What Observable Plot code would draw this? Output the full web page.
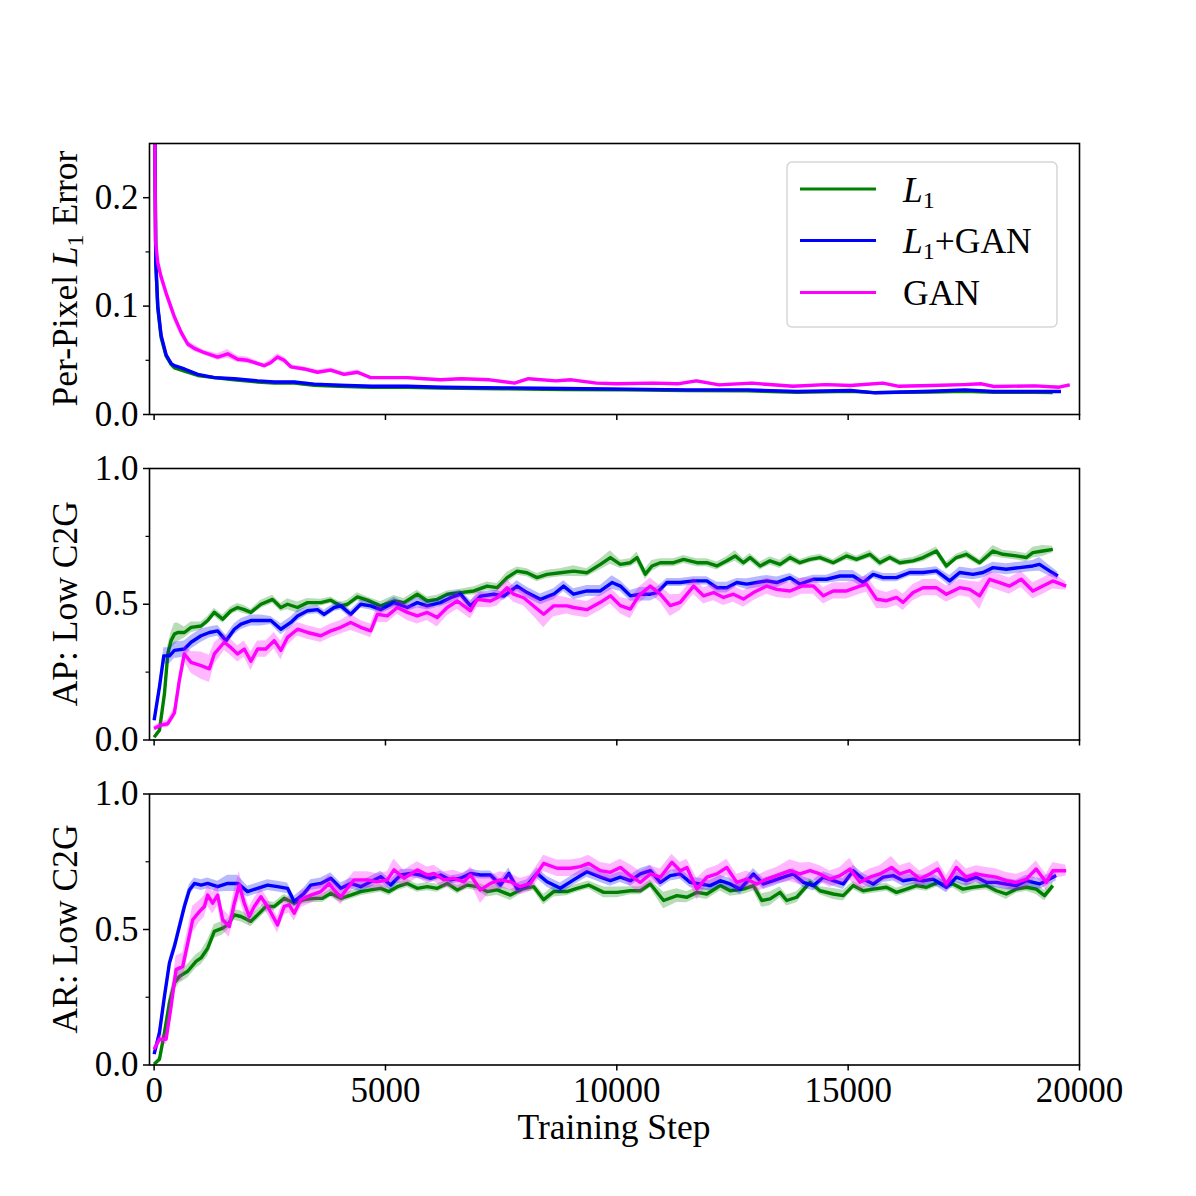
<!DOCTYPE html>
<html>
<head>
<meta charset="utf-8">
<script src="https://cdn.jsdelivr.net/npm/d3@7"></script>
<script src="https://cdn.jsdelivr.net/npm/@observablehq/plot@0.6"></script>
<style>
  html, body { margin: 0; padding: 0; background: #fff; overflow: hidden; }
  #chart { width: 1196px; height: 1196px; position: relative; }
  #chart svg { display: block; }
</style>
</head>
<body>
<div id="chart"></div>
<script>
// ---------- data: [training step, mean, spread] ----------
const seriesNames = ["L1", "L1+GAN", "GAN"];
const seriesColors = ["#008000", "#0000ff", "#ff00ff"];
const xTicks = [0, 5000, 10000, 15000, 20000];
const errTicks = [0, 0.1, 0.2];
const errMinor = [0.05, 0.15];
const scoreTicks = [0, 0.5, 1.0];
const scoreMinor = [0.25, 0.75];

const errL1 = [[0,0.35,0.002],[36,0.14,0.003],[79,0.098,0.002],[151,0.071,0.002],[259,0.054,0.001],[370,0.046,0.001],[439,0.043,0.001],[654,0.04,0.001],[942,0.036,0.001],[1301,0.034,0.001],[1733,0.032,0.001],[2236,0.03,0.001],[2600,0.029,0.001],[3027,0.029,0.001],[3458,0.027,0.001],[4000,0.026,0.001],[4700,0.025,0.001],[5471,0.025,0.001],[6193,0.0245,0.0008],[7520,0.0238,0.0008],[8850,0.023,0.0008],[10170,0.0228,0.0008],[11500,0.022,0.0008],[12830,0.0218,0.0008],[13890,0.0205,0.0008],[15050,0.0215,0.0008],[15580,0.0202,0.0008],[16810,0.0208,0.0008],[17520,0.0215,0.0008],[18150,0.0205,0.0008],[19030,0.0205,0.0008],[19420,0.0202,0.0008]];
const errL1GAN = [[0,0.35,0.002],[36,0.14,0.003],[79,0.1,0.002],[151,0.073,0.002],[259,0.055,0.001],[370,0.047,0.001],[439,0.045,0.001],[654,0.042,0.001],[942,0.037,0.001],[1301,0.034,0.001],[1733,0.033,0.001],[2236,0.031,0.001],[2600,0.03,0.001],[3027,0.03,0.001],[3458,0.028,0.001],[4000,0.027,0.001],[4700,0.026,0.001],[5471,0.026,0.001],[6193,0.0252,0.0008],[7520,0.0246,0.0008],[8850,0.024,0.0008],[10170,0.0234,0.0008],[11500,0.0227,0.0008],[12830,0.0227,0.0008],[13890,0.0212,0.0008],[15050,0.0221,0.0008],[15580,0.02,0.0008],[16810,0.0215,0.0008],[17520,0.0227,0.0008],[18150,0.0212,0.0008],[19030,0.0212,0.0008],[19600,0.0212,0.0008]];
const errGAN = [[0,0.35,0.005],[30,0.16,0.005],[79,0.14,0.005],[151,0.127,0.005],[259,0.112,0.005],[439,0.09,0.005],[582,0.076,0.004],[726,0.065,0.003],[870,0.061,0.003],[1086,0.057,0.002],[1373,0.053,0.003],[1589,0.056,0.004],[1805,0.051,0.003],[2020,0.05,0.003],[2236,0.047,0.002],[2380,0.045,0.002],[2524,0.048,0.003],[2667,0.053,0.003],[2811,0.05,0.003],[2955,0.044,0.002],[3243,0.042,0.002],[3530,0.039,0.002],[3818,0.041,0.002],[4105,0.037,0.002],[4393,0.039,0.002],[4681,0.034,0.001],[5040,0.034,0.001],[5471,0.034,0.001],[5831,0.033,0.001],[6193,0.032,0.001],[6636,0.033,0.001],[7250,0.032,0.001],[7790,0.0289,0.001],[8090,0.033,0.001],[8680,0.031,0.001],[9020,0.032,0.001],[9560,0.0289,0.001],[9990,0.0283,0.001],[10790,0.0289,0.001],[11320,0.0283,0.001],[11720,0.031,0.001],[12210,0.0273,0.001],[12920,0.0289,0.001],[13810,0.026,0.001],[14520,0.0276,0.001],[15050,0.0267,0.001],[15750,0.0289,0.001],[16100,0.026,0.001],[16810,0.0267,0.001],[17520,0.0276,0.001],[17880,0.0283,0.001],[18150,0.0258,0.001],[19030,0.0264,0.001],[19560,0.0252,0.001],[19790,0.0273,0.001]];

const apL1 = [[0,0.01,0.005],[115,0.036,0.01],[223,0.17,0.02],[295,0.317,0.03],[367,0.366,0.03],[439,0.39,0.04],[510,0.396,0.035],[654,0.396,0.02],[798,0.415,0.02],[1014,0.42,0.015],[1158,0.44,0.015],[1301,0.47,0.015],[1481,0.445,0.015],[1661,0.476,0.015],[1805,0.488,0.015],[1948,0.48,0.015],[2092,0.47,0.012],[2308,0.5,0.015],[2560,0.518,0.015],[2739,0.488,0.015],[2883,0.5,0.02],[3099,0.488,0.02],[3315,0.506,0.015],[3602,0.506,0.012],[3818,0.515,0.012],[4034,0.494,0.012],[4177,0.5,0.015],[4393,0.527,0.015],[4609,0.515,0.012],[4896,0.494,0.015],[5184,0.512,0.02],[5400,0.506,0.015],[5687,0.537,0.015],[5903,0.512,0.015],[6119,0.518,0.015],[6334,0.537,0.012],[6622,0.543,0.012],[6910,0.549,0.015],[7197,0.567,0.015],[7413,0.561,0.015],[7629,0.598,0.02],[7844,0.622,0.015],[8060,0.616,0.015],[8276,0.598,0.015],[8491,0.61,0.015],[8779,0.616,0.015],[9066,0.622,0.02],[9354,0.616,0.015],[9645,0.647,0.02],[9861,0.672,0.025],[10077,0.647,0.015],[10293,0.653,0.015],[10436,0.672,0.02],[10616,0.611,0.02],[10760,0.641,0.02],[10940,0.653,0.015],[11227,0.653,0.015],[11443,0.665,0.015],[11731,0.653,0.015],[11946,0.653,0.015],[12162,0.641,0.015],[12378,0.66,0.015],[12557,0.678,0.02],[12737,0.653,0.015],[12881,0.672,0.015],[13097,0.641,0.015],[13312,0.66,0.015],[13528,0.647,0.015],[13744,0.672,0.015],[13959,0.653,0.012],[14175,0.665,0.012],[14391,0.672,0.012],[14678,0.653,0.012],[14966,0.678,0.015],[15182,0.665,0.012],[15469,0.684,0.015],[15685,0.653,0.015],[15901,0.672,0.012],[16116,0.653,0.012],[16404,0.66,0.012],[16620,0.672,0.015],[16907,0.696,0.015],[17123,0.641,0.015],[17339,0.672,0.012],[17554,0.684,0.015],[17842,0.653,0.012],[18130,0.696,0.02],[18345,0.684,0.015],[18633,0.678,0.015],[18849,0.672,0.015],[18992,0.69,0.02],[19208,0.696,0.02],[19424,0.702,0.012]];
const apL1GAN = [[0,0.073,0.01],[115,0.195,0.02],[209,0.31,0.03],[331,0.31,0.03],[439,0.33,0.03],[654,0.335,0.03],[798,0.36,0.025],[1014,0.384,0.025],[1194,0.396,0.02],[1373,0.402,0.02],[1553,0.366,0.02],[1733,0.408,0.02],[1877,0.427,0.02],[2092,0.44,0.02],[2308,0.44,0.02],[2524,0.44,0.015],[2739,0.408,0.02],[2955,0.433,0.02],[3099,0.457,0.02],[3315,0.476,0.015],[3530,0.48,0.015],[3674,0.463,0.015],[3890,0.488,0.015],[4034,0.494,0.015],[4249,0.463,0.015],[4465,0.5,0.015],[4681,0.494,0.015],[4896,0.48,0.015],[5184,0.506,0.02],[5472,0.488,0.015],[5687,0.506,0.02],[5903,0.494,0.015],[6191,0.506,0.015],[6406,0.524,0.02],[6622,0.537,0.015],[6838,0.494,0.02],[7053,0.53,0.015],[7341,0.537,0.015],[7557,0.53,0.015],[7844,0.567,0.02],[8060,0.543,0.02],[8348,0.518,0.02],[8635,0.537,0.02],[8851,0.567,0.02],[9066,0.537,0.02],[9354,0.549,0.02],[9645,0.549,0.02],[9897,0.58,0.025],[10077,0.567,0.02],[10293,0.531,0.02],[10508,0.537,0.025],[10724,0.537,0.025],[10868,0.543,0.02],[11083,0.58,0.015],[11371,0.58,0.015],[11659,0.586,0.015],[11946,0.586,0.015],[12162,0.561,0.02],[12378,0.561,0.02],[12593,0.58,0.015],[12809,0.574,0.02],[13025,0.58,0.02],[13240,0.586,0.02],[13456,0.58,0.02],[13744,0.598,0.015],[13959,0.574,0.02],[14247,0.592,0.015],[14535,0.592,0.015],[14822,0.604,0.02],[15110,0.604,0.02],[15326,0.58,0.02],[15541,0.61,0.015],[15757,0.598,0.015],[16045,0.598,0.015],[16332,0.617,0.015],[16620,0.617,0.015],[16907,0.623,0.015],[17195,0.586,0.02],[17411,0.617,0.02],[17698,0.61,0.02],[17914,0.617,0.02],[18130,0.635,0.02],[18417,0.629,0.02],[18705,0.635,0.02],[18992,0.641,0.02],[19136,0.647,0.025],[19352,0.623,0.02],[19532,0.604,0.015]];
const apGAN = [[0,0.042,0.01],[151,0.055,0.01],[295,0.06,0.015],[439,0.1,0.02],[546,0.22,0.03],[654,0.317,0.03],[798,0.286,0.04],[1014,0.274,0.05],[1194,0.262,0.05],[1301,0.317,0.04],[1517,0.36,0.03],[1661,0.34,0.03],[1805,0.317,0.03],[1948,0.335,0.03],[2092,0.29,0.035],[2236,0.335,0.03],[2416,0.335,0.03],[2596,0.366,0.03],[2739,0.33,0.035],[2883,0.378,0.03],[3099,0.408,0.025],[3315,0.396,0.025],[3602,0.384,0.025],[3818,0.402,0.025],[4034,0.415,0.025],[4249,0.433,0.03],[4465,0.415,0.025],[4681,0.402,0.025],[4824,0.463,0.03],[5040,0.457,0.025],[5256,0.488,0.025],[5472,0.47,0.03],[5687,0.457,0.03],[5903,0.47,0.03],[6119,0.451,0.035],[6334,0.488,0.03],[6550,0.512,0.03],[6838,0.476,0.03],[6981,0.518,0.03],[7269,0.512,0.025],[7413,0.524,0.03],[7629,0.561,0.03],[7772,0.537,0.03],[7988,0.524,0.03],[8240,0.488,0.04],[8419,0.463,0.05],[8635,0.494,0.04],[8923,0.494,0.03],[9066,0.488,0.03],[9354,0.48,0.03],[9645,0.507,0.03],[9861,0.531,0.03],[10077,0.495,0.03],[10293,0.482,0.035],[10472,0.531,0.03],[10724,0.567,0.03],[10940,0.537,0.03],[11155,0.495,0.04],[11371,0.507,0.03],[11659,0.567,0.03],[11874,0.531,0.03],[12090,0.543,0.03],[12306,0.525,0.03],[12521,0.537,0.03],[12737,0.519,0.03],[12953,0.543,0.03],[13240,0.567,0.03],[13456,0.555,0.03],[13744,0.549,0.03],[13995,0.567,0.03],[14247,0.567,0.03],[14463,0.531,0.03],[14678,0.549,0.03],[14966,0.549,0.03],[15254,0.567,0.03],[15397,0.574,0.03],[15613,0.519,0.035],[15829,0.513,0.03],[16045,0.525,0.03],[16188,0.507,0.03],[16404,0.543,0.03],[16620,0.561,0.03],[16907,0.561,0.03],[17123,0.537,0.03],[17411,0.561,0.03],[17626,0.555,0.03],[17842,0.531,0.05],[18058,0.592,0.03],[18273,0.58,0.03],[18489,0.567,0.03],[18741,0.592,0.03],[18992,0.549,0.03],[19208,0.567,0.03],[19424,0.586,0.03],[19711,0.567,0.015]];

const arL1 = [[0,0.003,0.005],[115,0.021,0.01],[223,0.119,0.02],[331,0.229,0.03],[439,0.303,0.03],[546,0.327,0.025],[726,0.346,0.025],[906,0.382,0.025],[1014,0.395,0.025],[1158,0.431,0.03],[1301,0.493,0.025],[1481,0.505,0.025],[1589,0.517,0.02],[1733,0.554,0.02],[1877,0.548,0.02],[2092,0.53,0.02],[2236,0.554,0.02],[2416,0.585,0.02],[2596,0.585,0.015],[2811,0.615,0.015],[3027,0.597,0.015],[3243,0.61,0.015],[3458,0.615,0.015],[3638,0.615,0.015],[3818,0.634,0.015],[4034,0.615,0.015],[4249,0.627,0.015],[4465,0.64,0.015],[4681,0.646,0.015],[4896,0.652,0.015],[5076,0.64,0.015],[5256,0.658,0.015],[5472,0.67,0.015],[5687,0.652,0.015],[5903,0.658,0.015],[6119,0.652,0.015],[6334,0.67,0.015],[6550,0.646,0.015],[6766,0.664,0.015],[6981,0.658,0.015],[7197,0.64,0.02],[7413,0.646,0.02],[7700,0.627,0.02],[7988,0.652,0.015],[8204,0.658,0.015],[8419,0.61,0.02],[8635,0.64,0.02],[8923,0.64,0.015],[9138,0.652,0.015],[9390,0.664,0.015],[9717,0.637,0.02],[10005,0.637,0.02],[10293,0.643,0.015],[10508,0.643,0.015],[10724,0.668,0.015],[11012,0.607,0.03],[11299,0.625,0.025],[11515,0.619,0.02],[11731,0.637,0.02],[11946,0.631,0.02],[12234,0.662,0.02],[12450,0.643,0.02],[12737,0.649,0.02],[12953,0.662,0.02],[13133,0.607,0.025],[13312,0.613,0.025],[13528,0.637,0.02],[13672,0.607,0.02],[13888,0.619,0.02],[14175,0.674,0.015],[14391,0.643,0.015],[14678,0.631,0.02],[14894,0.625,0.02],[15110,0.662,0.015],[15326,0.643,0.015],[15541,0.649,0.015],[15829,0.656,0.015],[16045,0.637,0.015],[16260,0.649,0.015],[16476,0.662,0.015],[16692,0.656,0.015],[16943,0.674,0.015],[17123,0.662,0.015],[17267,0.668,0.015],[17483,0.649,0.02],[17698,0.656,0.015],[17986,0.662,0.015],[18202,0.643,0.015],[18417,0.631,0.02],[18633,0.649,0.015],[18849,0.656,0.015],[19064,0.649,0.02],[19244,0.625,0.02],[19424,0.662,0.015]];
const arL1GAN = [[0,0.04,0.01],[115,0.119,0.02],[223,0.254,0.02],[331,0.376,0.02],[439,0.438,0.02],[546,0.511,0.02],[654,0.585,0.02],[762,0.646,0.02],[870,0.67,0.02],[1014,0.664,0.02],[1158,0.67,0.02],[1373,0.658,0.02],[1589,0.67,0.03],[1805,0.67,0.03],[2020,0.64,0.02],[2236,0.652,0.02],[2452,0.664,0.02],[2667,0.658,0.02],[2883,0.652,0.02],[3027,0.603,0.02],[3243,0.634,0.02],[3386,0.664,0.02],[3602,0.67,0.02],[3818,0.689,0.02],[4034,0.652,0.02],[4249,0.67,0.02],[4465,0.658,0.02],[4681,0.676,0.02],[4896,0.695,0.02],[5112,0.664,0.02],[5328,0.701,0.02],[5544,0.707,0.015],[5759,0.701,0.015],[5975,0.689,0.015],[6191,0.701,0.015],[6406,0.683,0.015],[6622,0.689,0.015],[6838,0.707,0.015],[7053,0.701,0.015],[7269,0.701,0.015],[7485,0.664,0.02],[7665,0.707,0.02],[7844,0.652,0.02],[8060,0.664,0.02],[8276,0.707,0.02],[8491,0.676,0.02],[8779,0.652,0.02],[9066,0.683,0.02],[9354,0.713,0.02],[9645,0.693,0.02],[9861,0.68,0.02],[10077,0.693,0.02],[10293,0.68,0.02],[10508,0.705,0.02],[10724,0.717,0.02],[10940,0.674,0.02],[11155,0.699,0.02],[11371,0.705,0.02],[11587,0.674,0.02],[11802,0.668,0.02],[12018,0.662,0.02],[12234,0.68,0.02],[12450,0.668,0.02],[12665,0.649,0.02],[12953,0.705,0.02],[13169,0.668,0.02],[13384,0.68,0.02],[13600,0.693,0.02],[13816,0.705,0.02],[14031,0.674,0.02],[14247,0.662,0.02],[14463,0.693,0.02],[14678,0.68,0.02],[14894,0.668,0.02],[15110,0.717,0.02],[15326,0.686,0.02],[15541,0.668,0.02],[15757,0.693,0.02],[15973,0.699,0.02],[16188,0.68,0.02],[16404,0.686,0.02],[16620,0.68,0.02],[16835,0.686,0.02],[17123,0.656,0.02],[17339,0.693,0.02],[17554,0.68,0.02],[17770,0.693,0.02],[17986,0.674,0.02],[18202,0.674,0.02],[18417,0.668,0.02],[18633,0.662,0.02],[18849,0.68,0.02],[19136,0.668,0.02],[19280,0.68,0.02],[19496,0.699,0.02]];
const arGAN = [[0,0.058,0.01],[115,0.095,0.015],[259,0.095,0.02],[367,0.217,0.04],[475,0.352,0.05],[618,0.364,0.05],[726,0.45,0.05],[834,0.536,0.05],[978,0.566,0.04],[1086,0.585,0.04],[1158,0.627,0.04],[1265,0.597,0.04],[1373,0.627,0.04],[1481,0.536,0.04],[1625,0.511,0.04],[1733,0.597,0.05],[1841,0.664,0.05],[1948,0.597,0.04],[2056,0.548,0.035],[2164,0.585,0.03],[2308,0.621,0.03],[2452,0.585,0.03],[2667,0.517,0.03],[2811,0.585,0.03],[2919,0.591,0.03],[3027,0.56,0.03],[3171,0.61,0.03],[3386,0.627,0.03],[3602,0.64,0.03],[3782,0.67,0.03],[3890,0.646,0.03],[4034,0.621,0.03],[4177,0.652,0.03],[4321,0.683,0.03],[4609,0.683,0.03],[4824,0.676,0.03],[5040,0.683,0.03],[5184,0.72,0.04],[5400,0.689,0.03],[5687,0.72,0.03],[5903,0.701,0.03],[6047,0.707,0.03],[6263,0.683,0.03],[6478,0.689,0.03],[6694,0.676,0.03],[6838,0.701,0.03],[7053,0.646,0.05],[7269,0.67,0.03],[7485,0.683,0.03],[7700,0.676,0.03],[7916,0.658,0.03],[8132,0.67,0.03],[8419,0.744,0.03],[8707,0.726,0.03],[8994,0.726,0.03],[9210,0.732,0.03],[9390,0.744,0.03],[9645,0.717,0.03],[9861,0.711,0.03],[10077,0.729,0.03],[10293,0.699,0.04],[10508,0.674,0.04],[10724,0.705,0.03],[10940,0.693,0.03],[11191,0.748,0.03],[11371,0.717,0.03],[11515,0.729,0.03],[11731,0.649,0.04],[11946,0.693,0.03],[12162,0.705,0.03],[12378,0.729,0.03],[12593,0.674,0.03],[12809,0.686,0.03],[13025,0.668,0.03],[13240,0.686,0.03],[13456,0.699,0.03],[13744,0.717,0.04],[13959,0.705,0.04],[14175,0.717,0.03],[14391,0.705,0.03],[14606,0.686,0.03],[14822,0.699,0.03],[15038,0.723,0.04],[15254,0.674,0.03],[15469,0.693,0.03],[15685,0.705,0.03],[15937,0.729,0.04],[16116,0.705,0.03],[16332,0.717,0.03],[16548,0.686,0.03],[16764,0.705,0.03],[16943,0.723,0.03],[17123,0.668,0.03],[17339,0.729,0.03],[17554,0.693,0.03],[17770,0.705,0.03],[17986,0.699,0.03],[18202,0.693,0.03],[18417,0.68,0.03],[18633,0.674,0.03],[18849,0.686,0.03],[19064,0.723,0.03],[19280,0.674,0.03],[19424,0.717,0.03],[19711,0.717,0.02]];

// ---------- drawing ----------
const FONT = "'Liberation Serif', 'Times New Roman', serif";
const W = 1196, ML = 149, MR = 117;

function panel({series, yDomain, yTicks, yMinor, showX, height, mt, mb}) {
  const marks = [];
  series.forEach((s, i) => {
    const rows = s.map(([step, v, sd]) => ({step, v, lo: v - sd, hi: v + sd}));
    marks.push(Plot.areaY(rows, {x: "step", y1: "lo", y2: "hi", fill: seriesColors[i], fillOpacity: 0.28, clip: true}));
    marks.push(Plot.lineY(rows, {x: "step", y: "v", stroke: seriesColors[i], strokeWidth: 3.4,
      strokeLinejoin: "round", strokeLinecap: "butt", clip: true}));
  });
  marks.push(Plot.frame({stroke: "black", strokeWidth: 1.6}));
  marks.push(Plot.axisX({ticks: xTicks, tickSize: 6, tickPadding: 6, strokeWidth: 1.5,
    tickFormat: showX ? (d => String(d)) : (() => ""), label: null}));
  marks.push(Plot.axisY({ticks: yTicks, tickSize: 6, tickPadding: 5, strokeWidth: 1.5,
    tickFormat: d3.format(".1f"), label: null}));
  marks.push(Plot.axisY({ticks: yMinor, tickSize: 3.5, strokeWidth: 1.2, tickFormat: () => "", label: null}));
  return Plot.plot({
    width: W, height, marginLeft: ML, marginRight: MR, marginTop: mt, marginBottom: mb,
    style: {fontFamily: FONT, fontSize: "35px", background: "transparent", color: "black", overflow: "visible"},
    x: {domain: [-100, 20000]},
    y: {domain: yDomain},
    marks
  });
}

function yLabel(svg, cy, parts) {
  const t = d3.select(svg).append("text")
    .attr("transform", `translate(77,${cy}) rotate(-90)`)
    .attr("text-anchor", "middle")
    .attr("font-family", FONT).attr("font-size", 35.5).attr("fill", "black");
  parts(t);
}

const chart = document.getElementById("chart");

// Panel 1
const p1 = panel({series: [errL1, errL1GAN, errGAN], yDomain: [0, 0.25], yTicks: errTicks, yMinor: errMinor,
  showX: false, height: 441, mt: 143, mb: 27});
chart.appendChild(p1);
yLabel(p1, 278.5, t => {
  t.append("tspan").text("Per-Pixel ");
  t.append("tspan").attr("font-style", "italic").text("L");
  t.append("tspan").attr("font-size", 24).attr("dy", 6).text("1");
  t.append("tspan").attr("dy", -6).text(" Error");
});
// legend
{
  const g = d3.select(p1).append("g").attr("text-anchor", "start");
  g.append("rect").attr("x", 787).attr("y", 162).attr("width", 270).attr("height", 165)
    .attr("rx", 5).attr("fill", "white").attr("fill-opacity", 0.8)
    .attr("stroke", "#d6d6d6").attr("stroke-width", 1.5);
  const ys = [189, 240.5, 292.5];
  const base = [201.5, 253, 305];
  seriesNames.forEach((name, i) => {
    g.append("line").attr("x1", 800).attr("x2", 876).attr("y1", ys[i]).attr("y2", ys[i])
      .attr("stroke", seriesColors[i]).attr("stroke-width", 3);
    const t = g.append("text").attr("x", 903).attr("y", base[i]).attr("text-anchor", "start")
      .attr("font-family", FONT).attr("font-size", 35.5).attr("fill", "black");
    if (name.startsWith("L1")) {
      t.append("tspan").attr("font-style", "italic").text("L");
      t.append("tspan").attr("font-size", 24).attr("dy", 6).text("1");
      if (name.length > 2) t.append("tspan").attr("dy", -6).text(name.slice(2));
    } else {
      t.text(name);
    }
  });
}

// Panel 2
const p2 = panel({series: [apL1, apL1GAN, apGAN], yDomain: [0, 1], yTicks: scoreTicks, yMinor: scoreMinor,
  showX: false, height: 325, mt: 27, mb: 26.5});
chart.appendChild(p2);
yLabel(p2, 27 + 135.75, t => t.text("AP: Low C2G"));

// Panel 3
const p3 = panel({series: [arL1, arL1GAN, arGAN], yDomain: [0, 1], yTicks: scoreTicks, yMinor: scoreMinor,
  showX: true, height: 430, mt: 27.5, mb: 131.5});
chart.appendChild(p3);
yLabel(p3, 27.5 + 135.5, t => t.text("AR: Low C2G"));
d3.select(p3).append("text").attr("x", 614).attr("y", 373).attr("text-anchor", "middle")
  .attr("font-family", FONT).attr("font-size", 35.5).attr("fill", "black").text("Training Step");
</script>
</body>
</html>
